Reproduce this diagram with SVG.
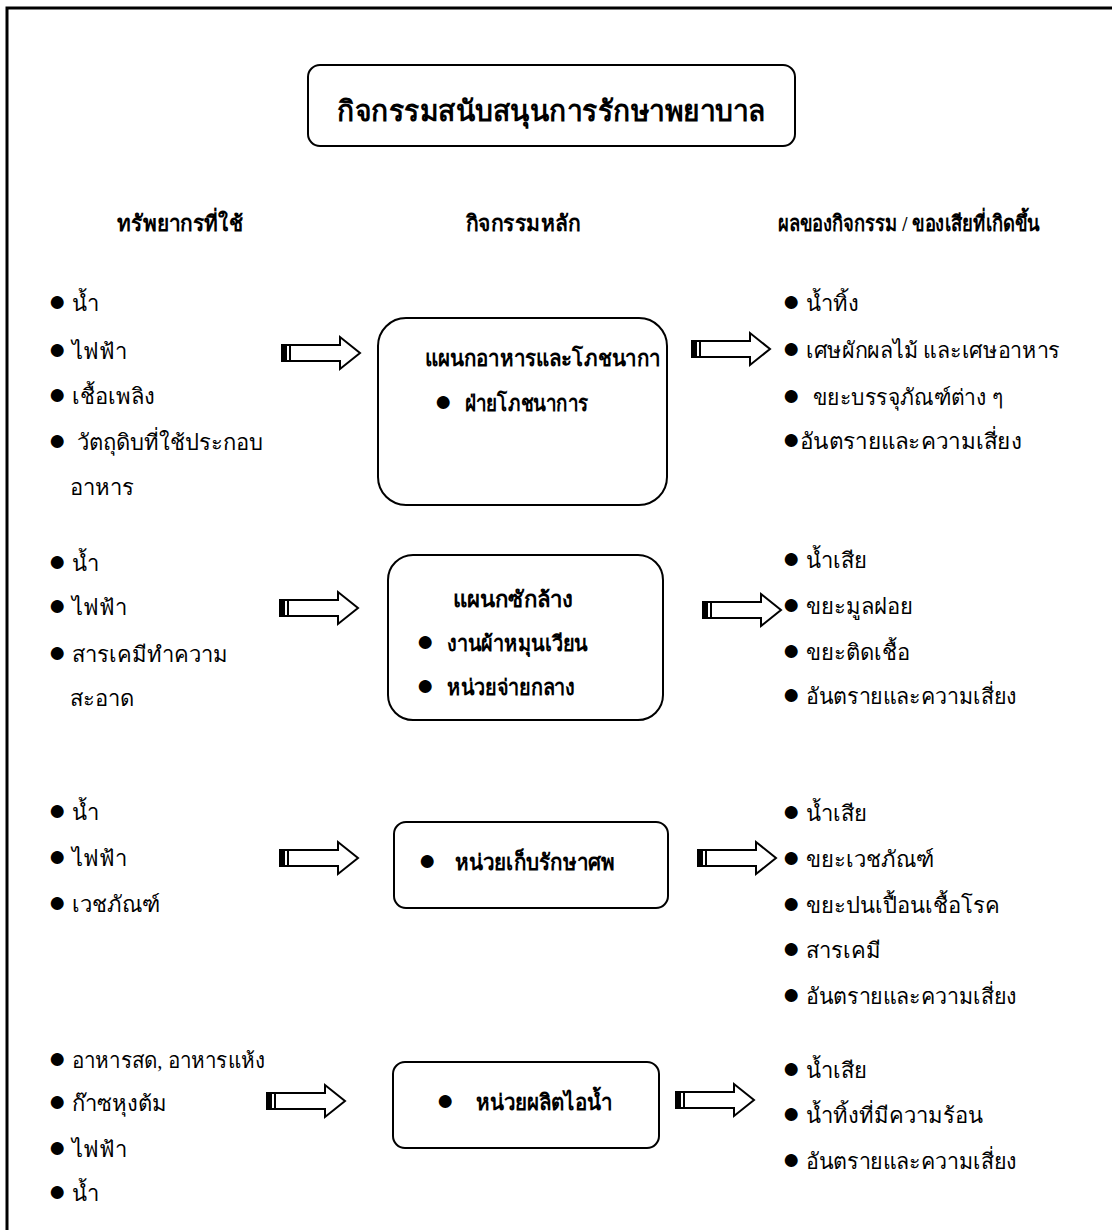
<svg xmlns="http://www.w3.org/2000/svg" width="1112" height="1230" viewBox="0 0 1112 1230">
<defs>
<style>
.t{font-family:"Liberation Serif","Noto Sans",serif;font-size:22px;fill:#000}
.b{font-weight:bold}
.d{font-size:30px}
.box{fill:#fff;stroke:#000;stroke-width:2}
.arr{fill:#fff;stroke:#000;stroke-width:2;stroke-linejoin:miter}
</style>
<g id="arrowShape">
<polygon class="arr" points="0,-8 58,-8 58,-16 78,0 58,16 58,8 0,8"/>
<rect x="0" y="-8" width="5" height="16" fill="#000"/>
<line x1="8" y1="-8" x2="8" y2="8" stroke="#000" stroke-width="2"/>
</g>
</defs>
<rect width="1112" height="1230" fill="#fff"/>
<path d="M7,1230 V8 H1112" fill="none" stroke="#000" stroke-width="3"/>

<g id="title">
<rect class="box" x="308" y="65" width="487" height="81" rx="12"/>
<text class="t b" x="337" y="121" textLength="429" lengthAdjust="spacingAndGlyphs" style="font-size:29px">กิจกรรมสนับสนุนการรักษาพยาบาล</text>
</g>

<g id="headers">
<text class="t b" x="117" y="231" textLength="126" lengthAdjust="spacingAndGlyphs">ทรัพยากรที่ใช้</text>
<text class="t b" x="466" y="231" textLength="114" lengthAdjust="spacingAndGlyphs">กิจกรรมหลัก</text>
<text class="t b" x="778" y="231" textLength="262" lengthAdjust="spacingAndGlyphs">ผลของกิจกรรม / ของเสียที่เกิดขึ้น</text>
</g>

<g id="inputs1">
<text class="t" y="311"><tspan class="d" x="48">●</tspan><tspan x="72">น้ำ</tspan></text>
<text class="t" y="359"><tspan class="d" x="48">●</tspan><tspan x="72">ไฟฟ้า</tspan></text>
<text class="t" y="404"><tspan class="d" x="48">●</tspan><tspan x="72">เชื้อเพลิง</tspan></text>
<text class="t" y="450"><tspan class="d" x="48">●</tspan><tspan x="77">วัตถุดิบที่ใช้ประกอบ</tspan></text>
<text class="t" x="70" y="495">อาหาร</text>
</g>
<g id="inputs2">
<text class="t" y="571"><tspan class="d" x="48">●</tspan><tspan x="72">น้ำ</tspan></text>
<text class="t" y="615"><tspan class="d" x="48">●</tspan><tspan x="72">ไฟฟ้า</tspan></text>
<text class="t" y="662"><tspan class="d" x="48">●</tspan><tspan x="72">สารเคมีทำความ</tspan></text>
<text class="t" x="70" y="706">สะอาด</text>
</g>
<g id="inputs3">
<text class="t" y="820"><tspan class="d" x="48">●</tspan><tspan x="72">น้ำ</tspan></text>
<text class="t" y="866"><tspan class="d" x="48">●</tspan><tspan x="72">ไฟฟ้า</tspan></text>
<text class="t" y="912"><tspan class="d" x="48">●</tspan><tspan x="72">เวชภัณฑ์</tspan></text>
</g>
<g id="inputs4">
<text class="t" y="1068"><tspan class="d" x="48">●</tspan><tspan x="72" textLength="193" lengthAdjust="spacingAndGlyphs">อาหารสด, อาหารแห้ง</tspan></text>
<text class="t" y="1111"><tspan class="d" x="48">●</tspan><tspan x="72">ก๊าซหุงต้ม</tspan></text>
<text class="t" y="1157"><tspan class="d" x="48">●</tspan><tspan x="72">ไฟฟ้า</tspan></text>
<text class="t" y="1201"><tspan class="d" x="48">●</tspan><tspan x="72">น้ำ</tspan></text>
</g>

<g id="activity1">
<rect class="box" x="378" y="318" width="289" height="187" rx="28"/>
<text class="t b" x="425" y="366" textLength="235" lengthAdjust="spacingAndGlyphs">แผนกอาหารและโภชนากา</text>
<text class="t b" y="411"><tspan class="d" x="434">●</tspan><tspan x="465" textLength="123" lengthAdjust="spacingAndGlyphs">ฝ่ายโภชนาการ</tspan></text>
</g>
<g id="activity2">
<rect class="box" x="388" y="555" width="275" height="165" rx="25"/>
<text class="t b" x="453" y="607" textLength="120" lengthAdjust="spacingAndGlyphs">แผนกซักล้าง</text>
<text class="t b" y="651"><tspan class="d" x="416">●</tspan><tspan x="447" textLength="141" lengthAdjust="spacingAndGlyphs">งานผ้าหมุนเวียน</tspan></text>
<text class="t b" y="695"><tspan class="d" x="416">●</tspan><tspan x="447" textLength="128" lengthAdjust="spacingAndGlyphs">หน่วยจ่ายกลาง</tspan></text>
</g>
<g id="activity3">
<rect class="box" x="394" y="822" width="274" height="86" rx="12"/>
<text class="t b" y="870"><tspan class="d" x="418">●</tspan><tspan x="455" textLength="160" lengthAdjust="spacingAndGlyphs">หน่วยเก็บรักษาศพ</tspan></text>
</g>
<g id="activity4">
<rect class="box" x="393" y="1062" width="266" height="86" rx="12"/>
<text class="t b" y="1110"><tspan class="d" x="436">●</tspan><tspan x="476" textLength="136" lengthAdjust="spacingAndGlyphs">หน่วยผลิตไอน้ำ</tspan></text>
</g>

<g id="outputs1">
<text class="t" y="311"><tspan class="d" x="782">●</tspan><tspan x="806">น้ำทิ้ง</tspan></text>
<text class="t" y="358"><tspan class="d" x="782">●</tspan><tspan x="806" textLength="254" lengthAdjust="spacingAndGlyphs">เศษผักผลไม้ และเศษอาหาร</tspan></text>
<text class="t" y="405"><tspan class="d" x="782">●</tspan><tspan x="813" textLength="190" lengthAdjust="spacingAndGlyphs">ขยะบรรจุภัณฑ์ต่าง ๆ</tspan></text>
<text class="t" y="449"><tspan class="d" x="782">●</tspan><tspan x="800" textLength="222" lengthAdjust="spacingAndGlyphs">อันตรายและความเสี่ยง</tspan></text>
</g>
<g id="outputs2">
<text class="t" y="568"><tspan class="d" x="782">●</tspan><tspan x="806">น้ำเสีย</tspan></text>
<text class="t" y="614"><tspan class="d" x="782">●</tspan><tspan x="806">ขยะมูลฝอย</tspan></text>
<text class="t" y="660"><tspan class="d" x="782">●</tspan><tspan x="806">ขยะติดเชื้อ</tspan></text>
<text class="t" y="704"><tspan class="d" x="782">●</tspan><tspan x="806" textLength="211" lengthAdjust="spacingAndGlyphs">อันตรายและความเสี่ยง</tspan></text>
</g>
<g id="outputs3">
<text class="t" y="821"><tspan class="d" x="782">●</tspan><tspan x="806">น้ำเสีย</tspan></text>
<text class="t" y="867"><tspan class="d" x="782">●</tspan><tspan x="806">ขยะเวชภัณฑ์</tspan></text>
<text class="t" y="913"><tspan class="d" x="782">●</tspan><tspan x="806">ขยะปนเปื้อนเชื้อโรค</tspan></text>
<text class="t" y="958"><tspan class="d" x="782">●</tspan><tspan x="806">สารเคมี</tspan></text>
<text class="t" y="1004"><tspan class="d" x="782">●</tspan><tspan x="806" textLength="211" lengthAdjust="spacingAndGlyphs">อันตรายและความเสี่ยง</tspan></text>
</g>
<g id="outputs4">
<text class="t" y="1078"><tspan class="d" x="782">●</tspan><tspan x="806">น้ำเสีย</tspan></text>
<text class="t" y="1123"><tspan class="d" x="782">●</tspan><tspan x="806">น้ำทิ้งที่มีความร้อน</tspan></text>
<text class="t" y="1169"><tspan class="d" x="782">●</tspan><tspan x="806" textLength="211" lengthAdjust="spacingAndGlyphs">อันตรายและความเสี่ยง</tspan></text>
</g>

<g id="connectors">
<use href="#arrowShape" transform="translate(282,353)"/>
<use href="#arrowShape" transform="translate(692,349)"/>
<use href="#arrowShape" transform="translate(280,608)"/>
<use href="#arrowShape" transform="translate(703,610)"/>
<use href="#arrowShape" transform="translate(280,858)"/>
<use href="#arrowShape" transform="translate(698,858)"/>
<use href="#arrowShape" transform="translate(267,1101)"/>
<use href="#arrowShape" transform="translate(676,1100)"/>
</g>
</svg>
